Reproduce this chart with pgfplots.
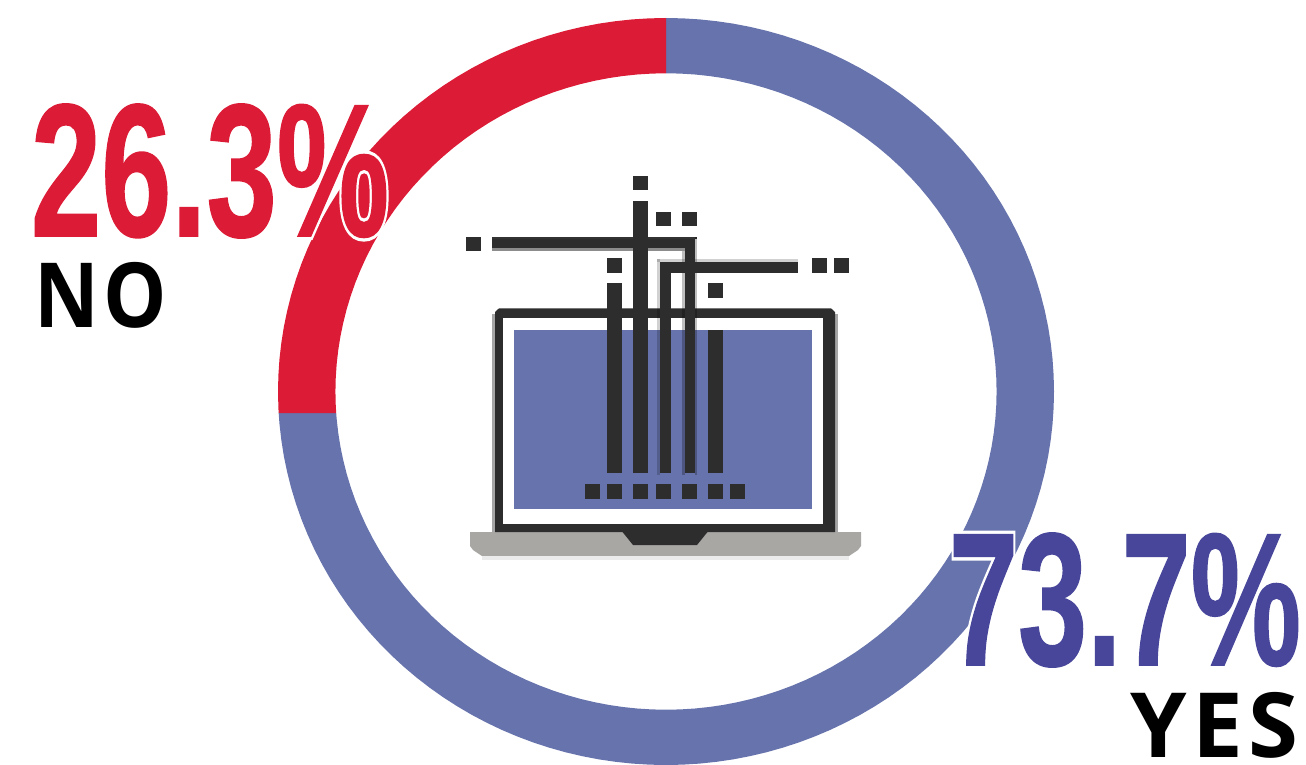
\documentclass[border=0pt]{standalone}
\usepackage{fontspec}
\usepackage{graphicx}
\usepackage{pgfplots}
\pgfplotsset{compat=1.18}
\setmainfont{Liberation Sans}
\newfontfamily\lab{Open Sans}[LetterSpace=6]
\newfontfamily\numfont{Liberation Sans Bold}[FakeBold=1]
\newfontfamily\halofont{Liberation Sans Bold}[FakeBold=4.5]
\definecolor{ringred}{HTML}{DC1B36}
\definecolor{ringblue}{HTML}{6773AC}
\definecolor{txtblue}{HTML}{47469A}
\definecolor{ink}{HTML}{2D2D2D}
\definecolor{basegray}{HTML}{A8A7A4}
\newcommand{\bignum}[6]{% x, ytop-from-bottom, w, h, colour, text
  \node[anchor=north west,inner sep=0pt,outer sep=0pt,text=white] at (#1pt,#2pt) {\resizebox*{#3pt}{#4pt}{\halofont #6}};
  \node[anchor=north west,inner sep=0pt,outer sep=0pt,text=#5] at (#1pt,#2pt) {\resizebox*{#3pt}{#4pt}{\numfont #6}};
}
\begin{document}
\begin{tikzpicture}
\path[use as bounding box] (0pt,0pt) rectangle (1306pt,764pt);
\begin{axis}[hide axis,scale only axis,width=1306pt,height=764pt,
  xmin=-171.65,xmax=164.95,ymin=-99.73,ymax=104.82]
% YES 73.7
\addplot[fill=ringblue,draw=none,data cs=polar] coordinates {
(90,100)(87.5,100)(85,100)(82.5,100)(80,100)(77.5,100)(75,100)(72.5,100)(70,100)(67.5,100)(65,100)(62.5,100)(60,100)(57.5,100)(55,100)(52.5,100)(50,100)(47.5,100)(45,100)(42.5,100)(40,100)(37.5,100)(35,100)(32.5,100)(30,100)(27.5,100)(25,100)(22.5,100)(20,100)(17.5,100)(15,100)(12.5,100)(10,100)(7.5,100)(5,100)(2.5,100)(0,100)
(-2.5,100)(-5,100)(-7.5,100)(-10,100)(-12.5,100)(-15,100)(-17.5,100)(-20,100)(-22.5,100)(-25,100)(-27.5,100)(-30,100)(-32.5,100)(-35,100)(-37.5,100)(-40,100)(-42.5,100)(-45,100)(-47.5,100)(-50,100)(-52.5,100)(-55,100)(-57.5,100)(-60,100)(-62.5,100)(-65,100)(-67.5,100)(-70,100)(-72.5,100)(-75,100)(-77.5,100)(-80,100)(-82.5,100)(-85,100)(-87.5,100)(-90,100)
(-92.5,100)(-95,100)(-97.5,100)(-100,100)(-102.5,100)(-105,100)(-107.5,100)(-110,100)(-112.5,100)(-115,100)(-117.5,100)(-120,100)(-122.5,100)(-125,100)(-127.5,100)(-130,100)(-132.5,100)(-135,100)(-137.5,100)(-140,100)(-142.5,100)(-145,100)(-147.5,100)(-150,100)(-152.5,100)(-155,100)(-157.5,100)(-160,100)(-162.5,100)(-165,100)(-167.5,100)(-170,100)(-172.5,100)(-175,100)(-176.7,100)
(-176.1,85.2)(-175,85.2)(-172.5,85.2)(-170,85.2)(-167.5,85.2)(-165,85.2)(-162.5,85.2)(-160,85.2)(-157.5,85.2)(-155,85.2)(-152.5,85.2)(-150,85.2)(-147.5,85.2)(-145,85.2)(-142.5,85.2)(-140,85.2)(-137.5,85.2)(-135,85.2)(-132.5,85.2)(-130,85.2)(-127.5,85.2)(-125,85.2)(-122.5,85.2)(-120,85.2)(-117.5,85.2)(-115,85.2)(-112.5,85.2)(-110,85.2)(-107.5,85.2)(-105,85.2)(-102.5,85.2)(-100,85.2)(-97.5,85.2)(-95,85.2)(-92.5,85.2)
(-90,85.2)(-87.5,85.2)(-85,85.2)(-82.5,85.2)(-80,85.2)(-77.5,85.2)(-75,85.2)(-72.5,85.2)(-70,85.2)(-67.5,85.2)(-65,85.2)(-62.5,85.2)(-60,85.2)(-57.5,85.2)(-55,85.2)(-52.5,85.2)(-50,85.2)(-47.5,85.2)(-45,85.2)(-42.5,85.2)(-40,85.2)(-37.5,85.2)(-35,85.2)(-32.5,85.2)(-30,85.2)(-27.5,85.2)(-25,85.2)(-22.5,85.2)(-20,85.2)(-17.5,85.2)(-15,85.2)(-12.5,85.2)(-10,85.2)(-7.5,85.2)(-5,85.2)(-2.5,85.2)
(0,85.2)(2.5,85.2)(5,85.2)(7.5,85.2)(10,85.2)(12.5,85.2)(15,85.2)(17.5,85.2)(20,85.2)(22.5,85.2)(25,85.2)(27.5,85.2)(30,85.2)(32.5,85.2)(35,85.2)(37.5,85.2)(40,85.2)(42.5,85.2)(45,85.2)(47.5,85.2)(50,85.2)(52.5,85.2)(55,85.2)(57.5,85.2)(60,85.2)(62.5,85.2)(65,85.2)(67.5,85.2)(70,85.2)(72.5,85.2)(75,85.2)(77.5,85.2)(80,85.2)(82.5,85.2)(85,85.2)(87.5,85.2)(90,85.2)
} --cycle;
% NO 26.3
\addplot[fill=ringred,draw=none,data cs=polar] coordinates {
(90,100)(92.5,100)(95,100)(97.5,100)(100,100)(102.5,100)(105,100)(107.5,100)(110,100)(112.5,100)(115,100)(117.5,100)(120,100)(122.5,100)(125,100)(127.5,100)(130,100)(132.5,100)(135,100)(137.5,100)(140,100)(142.5,100)(145,100)(147.5,100)(150,100)(152.5,100)(155,100)(157.5,100)(160,100)(162.5,100)(165,100)(167.5,100)(170,100)(172.5,100)(175,100)(177.5,100)(180,100)(182.5,100)(183.3,100)
(183.9,85.2)(182.5,85.2)(180,85.2)(177.5,85.2)(175,85.2)(172.5,85.2)(170,85.2)(167.5,85.2)(165,85.2)(162.5,85.2)(160,85.2)(157.5,85.2)(155,85.2)(152.5,85.2)(150,85.2)(147.5,85.2)(145,85.2)(142.5,85.2)(140,85.2)(137.5,85.2)(135,85.2)(132.5,85.2)(130,85.2)(127.5,85.2)(125,85.2)(122.5,85.2)(120,85.2)(117.5,85.2)(115,85.2)(112.5,85.2)(110,85.2)(107.5,85.2)(105,85.2)(102.5,85.2)(100,85.2)(97.5,85.2)(95,85.2)(92.5,85.2)(90,85.2)
} --cycle;
\end{axis}
\begin{axis}[hide axis,scale only axis,width=1306pt,height=764pt,clip=false,
  xmin=0,xmax=1306,ymin=0,ymax=764,y dir=reverse]
% base
\fill[basegray] (470,532) -- (861,532) -- (861,546) -- (858,550) -- (849,556) -- (482,556) -- (473,550) -- (470,546) -- cycle;
\fill[black!8] (482,556) rectangle (849,560);
% frame
\fill[gray!70] (833,314) rectangle (838,532);
\fill[gray!70] (492,314) rectangle (496,532);
\fill[ink] (499,308.3) -- (831,308.3) -- (835,312) -- (835,532) -- (495,532) -- (495,312) -- cycle;
\fill[white] (503.3,318.3) rectangle (823.3,524);
% notch
\fill[ink] (621.7,531) -- (708.3,531) -- (697,545) -- (633,545) -- cycle;
% screen
\fill[ringblue] (514,330) rectangle (812.3,509);
% soft edges of the two bent lines
\fill[black,opacity=.18] (656.7,258.5) rectangle (798,262);
\fill[black,opacity=.18] (656.7,258.5) rectangle (660,475);
\fill[black,opacity=.25] (682.3,251) rectangle (685,475);
\fill[black,opacity=.25] (695,237) rectangle (697.3,475);
\fill[black,opacity=.8] (492,237) rectangle (697.3,239);
\fill[black,opacity=.45] (492,247.5) rectangle (685,251);
% bars
\fill[ink] (607,283) rectangle (622.3,473);
\fill[ink] (633.3,201) rectangle (648.3,473);
\fill[ink] (708.3,330) rectangle (723.3,473);
\fill[ink] (660,262) rectangle (671.3,473);
\fill[ink] (685,239) rectangle (695,473);
\fill[ink] (492,239) rectangle (695,247.5);
\fill[ink] (660,262) rectangle (798,273);
% squares
\fill[ink] (633.3,176) rectangle (648.3,190);
\fill[ink] (656.3,212) rectangle (671.3,226);
\fill[ink] (682.3,212) rectangle (697.3,226);
\fill[ink] (466,237) rectangle (481.3,251);
\fill[ink] (607,258) rectangle (622.3,273.3);
\fill[ink] (812.3,258) rectangle (827.3,273.3);
\fill[ink] (834.3,258) rectangle (849.3,273.3);
\fill[ink] (708.3,283) rectangle (723.3,298);
\fill[ink] (585,484) rectangle (600.3,499);
\fill[ink] (607,484) rectangle (622.3,499);
\fill[ink] (633.3,484) rectangle (648.3,499);
\fill[ink] (656.3,484) rectangle (671.3,499);
\fill[ink] (682.3,484) rectangle (697.3,499);
\fill[ink] (708.3,484) rectangle (723.3,499);
\fill[ink] (730.3,484) rectangle (745.3,499);
\end{axis}
\bignum{31}{660}{358}{134}{ringred}{26.3\%}
\bignum{949}{231}{352}{134}{txtblue}{73.7\%}
\node[anchor=north west,inner sep=0pt] at (34pt,502pt) {\resizebox*{133pt}{66pt}{\lab\bfseries NO}};
\node[anchor=north west,inner sep=0pt] at (1130pt,72pt) {\resizebox*{168pt}{66pt}{\lab\bfseries YES}};
\end{tikzpicture}
\end{document}
